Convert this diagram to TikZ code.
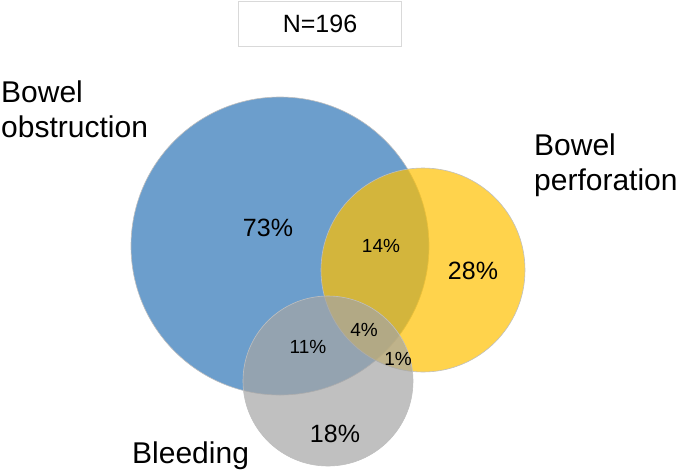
\documentclass[tikz,border=0pt]{standalone}
\usepackage{fontspec}
\setmainfont{Liberation Sans}
\usepackage{xcolor}
\definecolor{colObst}{RGB}{46,117,182}
\definecolor{colPerf}{RGB}{255,192,0}
\definecolor{colBleed}{RGB}{165,165,165}
\colorlet{colEdge}{black!25}
\usepackage{tikz}
\usetikzlibrary{positioning}

\begin{document}
\begin{tikzpicture}[
		x=1pt, y=-1pt,
		every node/.style={inner sep=0pt},
		setcircle/.style={draw=colEdge, line width=0.6pt, circle, fill opacity=0.7},
		catlabel/.style={font=\fontsize{30}{35}\selectfont, align=left, anchor=base west},
		pctbig/.style={font=\fontsize{25}{30}\selectfont},
		pctsmall/.style={font=\fontsize{19}{23}\selectfont}
	]
	\useasboundingbox (0,0) rectangle (680,472);
	% the three sets
	\node[setcircle, fill=colObst, minimum size=298pt] (obst) at (280,246) {};
	\node[setcircle, fill=colPerf, minimum size=204pt] (perf) at (423,270) {};
	\node[setcircle, fill=colBleed, minimum size=170pt] (bleed) at (328,381) {};
	% sample size
	\node[draw=black!15, line width=0.8pt, minimum width=163pt, minimum height=45pt,
	      font=\fontsize{25}{30}\selectfont] (total) at (320,24) {N=196};
	% set names
	\node[catlabel] (lobst) at (1,137) {Bowel\\obstruction};
	\node[catlabel] (lperf) at (534,190) {Bowel\\perforation};
	\node[catlabel] (lbleed) at (132,463) {Bleeding};
	% percentages
	\node[pctbig] (pobst) at (268,228) {73\%};
	\node[pctbig] (pperf) at (473,271) {28\%};
	\node[pctbig] (pbleed) at (335,434) {18\%};
	\node[pctsmall] (pop) at (381,246) {14\%};
	\node[pctsmall] (pob) at (308,347) {11\%};
	\node[pctsmall] (popb) at (364,330) {4\%};
	\node[pctsmall] (ppb) at (398,359) {1\%};
\end{tikzpicture}
\end{document}
